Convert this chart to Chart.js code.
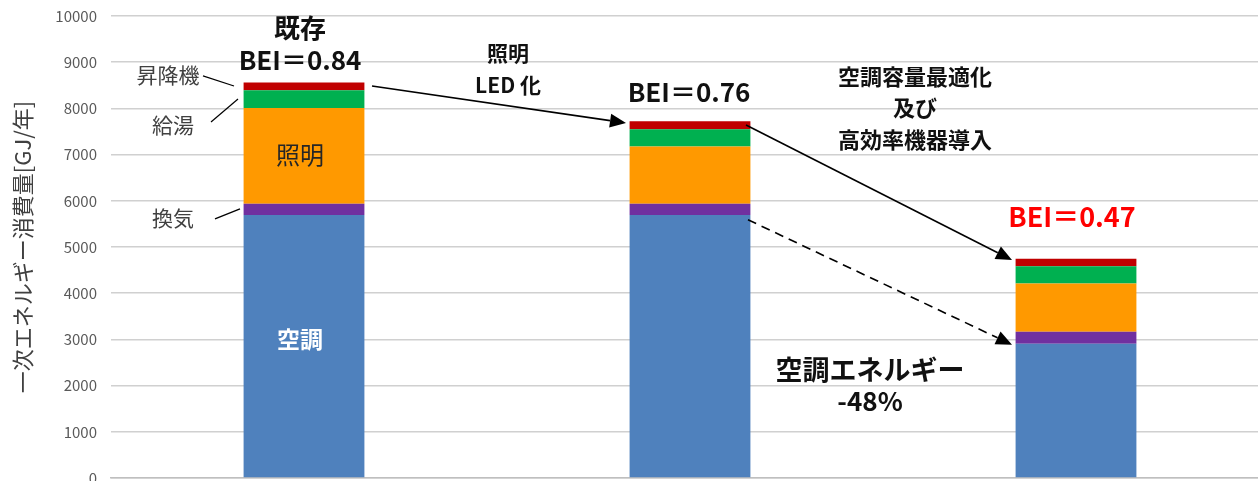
<!DOCTYPE html>
<html><head><meta charset="utf-8">
<script src="https://cdn.jsdelivr.net/npm/chart.js@4/dist/chart.umd.min.js"></script>
<style>html,body{margin:0;padding:0;overflow:hidden;background:#fff}#wrap{width:1270px;height:500px}</style>
</head><body><div id="wrap"><canvas id="c"></canvas></div>
<script>
// ---- data ----
const categories = ['既存', '照明LED化', '空調容量最適化及び高効率機器導入'];
const seriesNames = ['空調', '換気', '照明', '給湯', '昇降機'];
const airConditioning = [5690, 5690, 2905];
const ventilation = [244, 244, 260];
const lighting = [2077, 1240, 1044];
const hotWater = [383, 376, 377];
const elevator = [164, 173, 158];
const beiValues = ['0.84', '0.76', '0.47'];
const yMin = 0, yMax = 10000, yStep = 1000;
const colors = ['#4F81BD', '#7030A0', '#FF9900', '#00B050', '#C00000'];

const FONT = '"Noto Sans CJK JP", "Noto Sans", sans-serif';

// annotations: x = center of category i + dx (px), y = value on the y scale
const texts = [
  {i:0, dx:-4, v:9740, t:'既存', size:26, bold:true},
  {i:0, dx:-4, v:9048, t:'BEI＝' + beiValues[0], size:26, bold:true},
  {i:0, dx:204, v:9200, t:'照明', size:21, bold:true},
  {i:0, dx:204, v:8508, t:'LED 化', size:21, bold:true},
  {i:1, dx:-1, v:8355, t:'BEI＝' + beiValues[1], size:26, bold:true},
  {i:1, dx:225, v:8680, t:'空調容量最適化', size:22, bold:true},
  {i:1, dx:225, v:8010, t:'及び', size:22, bold:true},
  {i:1, dx:225, v:7313, t:'高効率機器導入', size:22, bold:true},
  {i:2, dx:-4, v:5652, t:'BEI＝' + beiValues[2], size:27, bold:true, color:'#FF0000'},
  {i:1, dx:180, v:2343, t:'空調エネルギー', size:27, bold:true},
  {i:1, dx:180, v:1655, t:'-48%', size:26, bold:true},
  {i:0, dx:-4, v:2996, t:seriesNames[0], size:23, bold:true, color:'#FFFFFF'},
  {i:0, dx:-4, v:6994, t:seriesNames[2], size:24, bold:false, color:'#262626'},
  {i:0, dx:-136, v:8718, t:seriesNames[4], size:21, bold:false, color:'#404040'},
  {i:0, dx:-131, v:7637, t:seriesNames[3], size:21, bold:false, color:'#404040'},
  {i:0, dx:-131, v:5625, t:seriesNames[1], size:21, bold:false, color:'#404040'}
];
const leaders = [
  {i:0, dx1:-101, v1:8703, dx2:-70, v2:8486},
  {i:0, dx1:-93, v1:7707, dx2:-66, v2:8205},
  {i:0, dx1:-89, v1:5609, dx2:-64, v2:5825}
];
const arrows = [
  {i1:0, dx1:68, v1:8486, i2:1, dx2:-64, v2:7686, dash:false},
  {i1:1, dx1:56, v1:7640, i2:2, dx2:-64, v2:4720, dash:false},
  {i1:1, dx1:58, v1:5590, i2:2, dx2:-64, v2:2886, dash:true}
];

const annotPlugin = {
  id: 'annot',
  afterDatasetsDraw(chart) {
    const ctx = chart.ctx, xs = chart.scales.x, ys = chart.scales.y;
    const X = (i, dx) => xs.getPixelForValue(i) + dx;
    const Y = v => ys.getPixelForValue(v);
    ctx.save();
    ctx.strokeStyle = '#000'; ctx.lineWidth = 1.2;
    leaders.forEach(l => {
      ctx.beginPath(); ctx.moveTo(X(l.i, l.dx1), Y(l.v1)); ctx.lineTo(X(l.i, l.dx2), Y(l.v2)); ctx.stroke();
    });
    arrows.forEach(a => {
      const x1 = X(a.i1, a.dx1), y1 = Y(a.v1), x2 = X(a.i2, a.dx2), y2 = Y(a.v2);
      const ang = Math.atan2(y2 - y1, x2 - x1);
      const hl = 16, hw = 7;
      const bx = x2 - hl * Math.cos(ang), by = y2 - hl * Math.sin(ang);
      ctx.strokeStyle = '#000'; ctx.lineWidth = 1.6;
      ctx.setLineDash(a.dash ? [9, 6] : []);
      ctx.beginPath(); ctx.moveTo(x1, y1); ctx.lineTo(bx, by); ctx.stroke();
      ctx.setLineDash([]);
      ctx.fillStyle = '#000';
      ctx.beginPath();
      ctx.moveTo(x2, y2);
      ctx.lineTo(bx + hw * Math.sin(ang), by - hw * Math.cos(ang));
      ctx.lineTo(bx - hw * Math.sin(ang), by + hw * Math.cos(ang));
      ctx.closePath(); ctx.fill();
    });
    ctx.textAlign = 'center'; ctx.textBaseline = 'middle';
    texts.forEach(t => {
      ctx.font = (t.bold ? 'bold ' : '') + t.size + 'px ' + FONT;
      ctx.fillStyle = t.color || '#111111';
      ctx.fillText(t.t, X(t.i, t.dx), Y(t.v));
    });
    ctx.restore();
  }
};

const yTickValues = [];
for (let v = yMin; v <= yMax; v += yStep) yTickValues.push(v);

const seriesData = [airConditioning, ventilation, lighting, hotWater, elevator];
new Chart(document.getElementById('c'), {
  type: 'bar',
  data: {
    labels: categories,
    datasets: seriesNames.map((n, k) => ({
      label: n, data: seriesData[k], backgroundColor: colors[k],
      borderWidth: 0, barPercentage: 0.313, categoryPercentage: 1
    }))
  },
  options: {
    responsive: true, maintainAspectRatio: false, animation: false,
    layout: {padding: {top: 16, bottom: 22, left: 0, right: 1}},
    plugins: {legend: {display: false}, tooltip: {enabled: false}},
    scales: {
      x: {
        stacked: true,
        ticks: {display: false},
        grid: {display: false},
        border: {display: true, color: '#BFBFBF', width: 1.5},
        afterFit: s => { s.height = 0; s.paddingLeft = 0; s.paddingRight = 0; }
      },
      y: {
        stacked: true, min: yMin, max: yMax,
        afterFit: s => { s.width = 111; s.paddingTop = 0; s.paddingBottom = 0; },
        afterBuildTicks: s => { s.ticks = yTickValues.map(v => ({value: v})); },
        ticks: {stepSize: yStep, padding: 14, color: '#595959',
          font: {family: FONT, size: 15}, callback: v => String(v)},
        grid: {color: '#D0D0D0', lineWidth: 1.5, drawTicks: false},
        border: {display: false},
        title: {display: true, text: '一次エネルギー消費量[GJ/年]', color: '#404040',
          font: {family: FONT, size: 22}, padding: {top: 9, bottom: 0}}
      }
    }
  },
  plugins: [annotPlugin]
});
</script></body></html>
